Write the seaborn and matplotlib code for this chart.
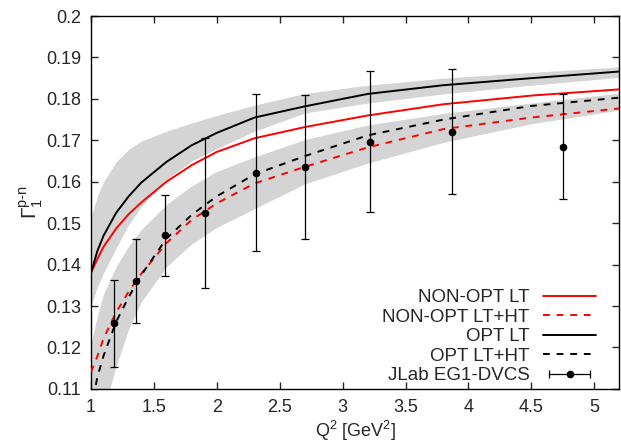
import matplotlib
matplotlib.use('Agg')
import matplotlib.pyplot as plt
import seaborn as sns
import pandas as pd
from matplotlib.lines import Line2D
from matplotlib.legend_handler import HandlerLine2D, HandlerTuple

# curves
q2_curve = [1.0, 1.05, 1.1, 1.2, 1.3, 1.4, 1.6, 1.8, 2.0, 2.3, 2.7, 3.2, 3.8, 4.5, 5.2]
nonopt_lt = [0.1380, 0.1413, 0.1443, 0.1487, 0.1522, 0.1550, 0.1600, 0.1640, 0.1672, 0.1705, 0.1732, 0.1760, 0.1787, 0.1808, 0.1823]
nonopt_ltht = [0.1141, 0.1178, 0.1222, 0.1285, 0.1335, 0.1378, 0.1452, 0.1508, 0.1548, 0.1596, 0.1636, 0.1683, 0.1727, 0.1755, 0.1777]
opt_lt = [0.1380, 0.1432, 0.1470, 0.1525, 0.1565, 0.1598, 0.1648, 0.1688, 0.1718, 0.1755, 0.1782, 0.1812, 0.1833, 0.1850, 0.1866]
opt_ltht = [0.1045, 0.1128, 0.1180, 0.1262, 0.1322, 0.1375, 0.1463, 0.1520, 0.1565, 0.1618, 0.1662, 0.1712, 0.1750, 0.1783, 0.1803]

# grey uncertainty bands
band_lt_hi = [0.1515, 0.1565, 0.1600, 0.1648, 0.1678, 0.1698, 0.1722, 0.1742, 0.1760, 0.1785, 0.1813, 0.1833, 0.1850, 0.1864, 0.1877]
band_lt_lo = [0.1300, 0.1345, 0.1380, 0.1440, 0.1497, 0.1540, 0.1605, 0.1650, 0.1680, 0.1722, 0.1766, 0.1790, 0.1812, 0.1833, 0.1852]
band_ht_hi = [0.1210, 0.1275, 0.1330, 0.1395, 0.1445, 0.1485, 0.1545, 0.1590, 0.1625, 0.1660, 0.1702, 0.1737, 0.1765, 0.1790, 0.1814]
band_ht_lo = [0.0920, 0.0985, 0.1045, 0.1155, 0.1245, 0.1310, 0.1395, 0.1450, 0.1490, 0.1535, 0.1595, 0.1645, 0.1695, 0.1740, 0.1773]

# JLab EG1-DVCS data
q2_data = [1.18, 1.36, 1.59, 1.91, 2.31, 2.70, 3.22, 3.87, 4.75]
g1_data = [0.1258, 0.1360, 0.1471, 0.1525, 0.1622, 0.1636, 0.1697, 0.1721, 0.1685]
g1_err = [0.0105, 0.0102, 0.0098, 0.0181, 0.0189, 0.0173, 0.0170, 0.0150, 0.0126]

sns.set_style('ticks')
plt.rcParams['font.family'] = ['Liberation Sans', 'DejaVu Sans']
plt.rcParams['mathtext.fontset'] = 'custom'
plt.rcParams['mathtext.rm'] = 'Liberation Sans'
plt.rcParams['mathtext.it'] = 'Liberation Sans'
plt.rcParams['font.size'] = 13

df = pd.DataFrame({'q2': q2_curve, 'nonopt_lt': nonopt_lt, 'nonopt_ltht': nonopt_ltht,
                   'opt_lt': opt_lt, 'opt_ltht': opt_ltht})

fig = plt.figure(figsize=(6.21, 4.45), dpi=100)
ax = fig.add_axes([0.1465, 0.126, 0.851, 0.838])

grey = '#d4d4d4'
ax.fill_between(q2_curve, band_lt_lo, band_lt_hi, color=grey, lw=0, zorder=1)
ax.fill_between(q2_curve, band_ht_lo, band_ht_hi, color=grey, lw=0, zorder=1)

sns.lineplot(data=df, x='q2', y='nonopt_lt', color='red', lw=1.4, ax=ax, zorder=3)
sns.lineplot(data=df, x='q2', y='nonopt_ltht', color='red', lw=1.4, ax=ax, zorder=3)
ax.lines[-1].set_dashes((3.5, 3.5))
sns.lineplot(data=df, x='q2', y='opt_lt', color='black', lw=1.4, ax=ax, zorder=3)
sns.lineplot(data=df, x='q2', y='opt_ltht', color='black', lw=1.4, ax=ax, zorder=3)
ax.lines[-1].set_dashes((3.5, 3.5))

ax.errorbar(q2_data, g1_data, yerr=g1_err, fmt='o', color='black', ms=4.5,
            elinewidth=0.9, capsize=3, capthick=0.9, zorder=4)

ax.set_xlim(1, 5.2)
ax.set_ylim(0.11, 0.2)
ax.set_xticks([1, 1.5, 2, 2.5, 3, 3.5, 4, 4.5, 5])
ax.set_xticklabels(['1', '1.5', '2', '2.5', '3', '3.5', '4', '4.5', '5'])
ax.set_yticks([0.11, 0.12, 0.13, 0.14, 0.15, 0.16, 0.17, 0.18, 0.19, 0.2])
ax.set_yticklabels(['0.11', '0.12', '0.13', '0.14', '0.15', '0.16', '0.17', '0.18', '0.19', '0.2'])
ax.tick_params(direction='in', length=5, width=1, top=True, right=True, labelsize=13, pad=7)
for s in ax.spines.values():
    s.set_linewidth(1)
    s.set_color('black')

ax.set_xlabel(r'Q$^2$ [GeV$^2$]', fontsize=13, labelpad=2)
ax.set_ylabel(r'$\Gamma_1^{\mathrm{p}\mathrm{\text{-}}\mathrm{n}}$', fontsize=15, labelpad=1)

h1 = Line2D([], [], color='red', lw=1.4)
h2 = Line2D([], [], color='red', lw=1.4, dashes=(3.5, 3.5))
h3 = Line2D([], [], color='black', lw=1.4)
h4 = Line2D([], [], color='black', lw=1.4, dashes=(3.5, 3.5))
h5a = Line2D([], [], color='black', lw=0.9, marker='|', ms=6, mew=0.9)
h5b = Line2D([], [], color='black', ls='none', marker='o', ms=4.5)
leg = ax.legend([h1, h2, h3, h4, (h5a, h5b)],
                ['NON-OPT LT', 'NON-OPT LT+HT', 'OPT LT', 'OPT LT+HT', 'JLab EG1-DVCS'],
                loc='lower right', bbox_to_anchor=(0.984, -0.028), frameon=False,
                markerfirst=False, handlelength=2.8, handletextpad=0.75, labelspacing=0.13,
                borderpad=0.3, fontsize=13.5,
                handler_map={h5a: HandlerLine2D(numpoints=2), h5b: HandlerLine2D(numpoints=1),
                             tuple: HandlerTuple(ndivide=1)})
vp = leg._legend_box._children[-1]._children[0]
vp.align = 'right'

fig.savefig('out.png', dpi=100)
